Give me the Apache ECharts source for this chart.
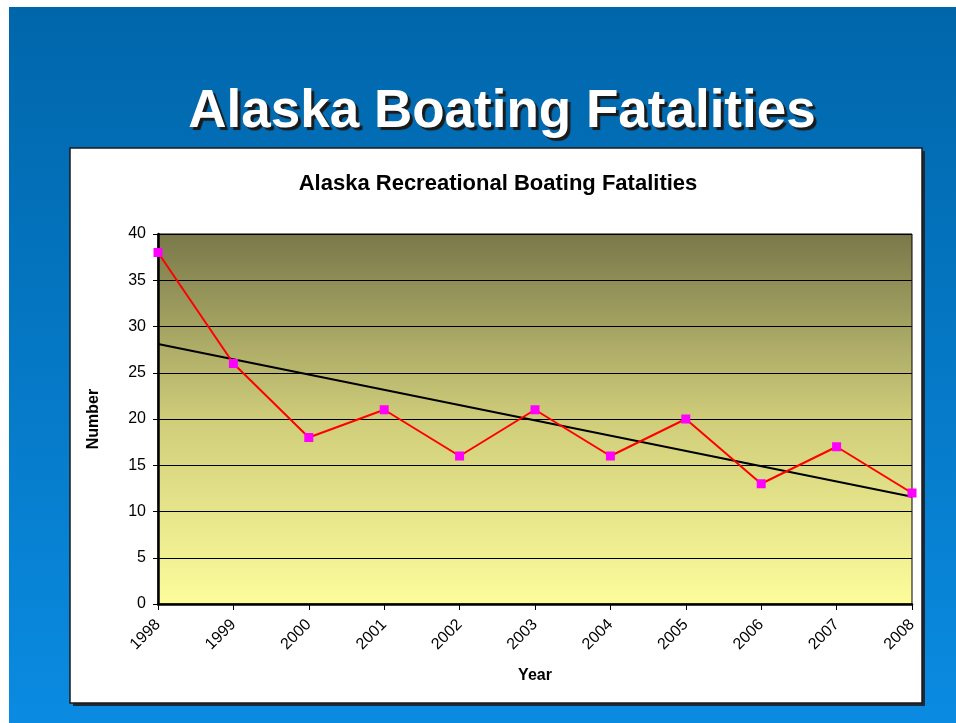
<!DOCTYPE html>
<html>
<head>
<meta charset="utf-8">
<script src="https://cdn.jsdelivr.net/npm/echarts@6/dist/echarts.min.js"></script>
<style>
  html, body { margin: 0; padding: 0; background: #fff; }
  #chart { width: 956px; height: 723px; }
</style>
</head>
<body>
<div id="chart"></div>
<script>
// data
const years = ["1998", "1999", "2000", "2001", "2002", "2003", "2004", "2005", "2006", "2007", "2008"];
const fatalities = [38, 26, 18, 21, 16, 21, 16, 20, 13, 17, 12];
// linear trend line, endpoints as drawn
const trendYears = ["1998", "2008"];
const trendValues = [28.1, 11.6];

const FONT = "Liberation Sans";

const chart = echarts.init(document.getElementById("chart"));

const options = {
  animation: false,
  backgroundColor: "#ffffff",
  graphic: [
    // slide background
    {
      type: "rect",
      z: -20,
      shape: { x: 9, y: 7, width: 947, height: 716 },
      style: {
        fill: new echarts.graphic.LinearGradient(0, 0, 0, 1, [
          { offset: 0, color: "#0066aa" },
          { offset: 1, color: "#0a8be1" },
        ]),
      },
    },
    // chart box shadow
    {
      type: "rect",
      z: -12,
      shape: { x: 73, y: 151, width: 852, height: 555 },
      style: { fill: "#1c2a38" },
    },
    // chart box
    {
      type: "rect",
      z: -10,
      shape: { x: 70, y: 148, width: 852, height: 555 },
      style: { fill: "#ffffff", stroke: "#1a1a1a", lineWidth: 1.5 },
    },
  ],
  title: [
    {
      text: "Alaska Boating Fatalities",
      left: 497,
      textAlign: "center",
      top: 81,
      textStyle: {
        color: "#ffffff",
        fontFamily: FONT,
        fontWeight: "bold",
        fontSize: 53,
        textShadowColor: "#1a1a1a",
        textShadowOffsetX: 3,
        textShadowOffsetY: 3,
        textShadowBlur: 1,
      },
    },
    {
      text: "Alaska Recreational Boating Fatalities",
      left: 493,
      textAlign: "center",
      top: 168,
      textStyle: {
        color: "#000",
        fontFamily: FONT,
        fontWeight: "bold",
        fontSize: 22,
      },
    },
  ],
  grid: {
    left: 158,
    right: 44,
    top: 234,
    bottom: 119,
    show: true,
    borderColor: "#000",
    borderWidth: 1,
    backgroundColor: new echarts.graphic.LinearGradient(0, 0, 0, 1, [
      { offset: 0, color: "#79784a" },
      { offset: 0.5, color: "#cfcd7a" },
      { offset: 1, color: "#fdfd9c" },
    ]),
  },
  xAxis: {
    type: "category",
    data: years,
    boundaryGap: false,
    name: "Year",
    nameLocation: "middle",
    nameGap: 64,
    nameTextStyle: {
      color: "#000",
      fontFamily: FONT,
      fontWeight: "bold",
      fontSize: 16,
    },
    axisLine: { lineStyle: { color: "#000", width: 2.5 } },
    axisTick: { length: 6, lineStyle: { color: "#000" } },
    axisLabel: {
      rotate: 45,
      margin: 18,
      color: "#000",
      fontFamily: FONT,
      fontSize: 16,
    },
    splitLine: { show: false },
  },
  yAxis: {
    type: "value",
    min: 0,
    max: 40,
    interval: 5,
    name: "Number",
    nameLocation: "middle",
    nameGap: 56,
    nameRotate: 90,
    nameTextStyle: {
      color: "#000",
      fontFamily: FONT,
      fontWeight: "bold",
      fontSize: 16,
    },
    axisLine: { show: true, lineStyle: { color: "#000", width: 2.5 } },
    axisTick: { show: true, length: 5, lineStyle: { color: "#000" } },
    axisLabel: {
      margin: 12,
      color: "#000",
      fontFamily: FONT,
      fontSize: 16,
    },
    splitLine: { lineStyle: { color: "#000", width: 1 } },
  },
  series: [
    {
      name: "Fatalities",
      type: "line",
      data: fatalities,
      symbol: "rect",
      symbolSize: 9,
      itemStyle: { color: "#ff00ff" },
      lineStyle: { color: "#ff0000", width: 2 },
      z: 3,
    },
    {
      name: "Trend",
      type: "line",
      data: trendYears.map((y, i) => [y, trendValues[i]]),
      symbol: "none",
      lineStyle: { color: "#000", width: 2 },
      z: 2,
    },
  ],
};

chart.setOption(options);
</script>
</body>
</html>
